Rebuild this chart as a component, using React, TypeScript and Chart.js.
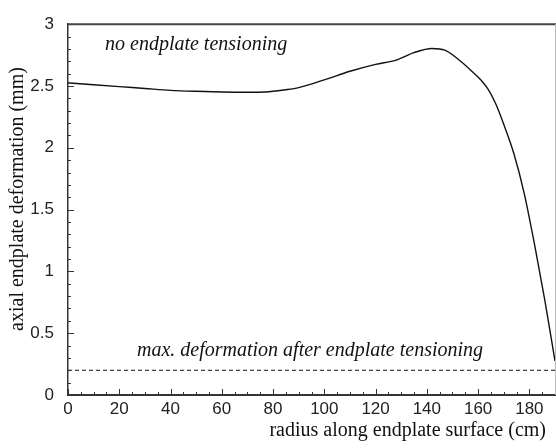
import React, { useEffect, useRef } from "react";
import { Chart, registerables } from "chart.js";

Chart.register(...registerables);

const radius = [0, 10, 20, 30, 40, 50, 60, 70, 77, 85, 90, 100, 110, 120, 128, 135, 142, 147, 152, 157, 161, 164, 167, 170, 174, 178, 182, 186, 190];
const deformation = [2.525, 2.51, 2.495, 2.48, 2.465, 2.457, 2.452, 2.45, 2.452, 2.47, 2.487, 2.55, 2.619, 2.675, 2.71, 2.77, 2.803, 2.79, 2.72, 2.63, 2.55, 2.47, 2.35, 2.19, 1.95, 1.63, 1.22, 0.77, 0.276];
const tensionedRadius = [0, 190];
const tensionedLimit = [0.2, 0.2];

const xTicks = [0, 20, 40, 60, 80, 100, 120, 140, 160, 180];
const yTicks = [0, 0.5, 1, 1.5, 2, 2.5, 3];
const xMinorStep = 5;
const yMinorStep = 0.1;

const xTitle = "radius along endplate surface (cm)";
const yTitle = "axial endplate deformation (mm)";
const noteTop = "no endplate tensioning";
const noteBottom = "max. deformation after endplate tensioning";

const decorPlugin = {
  id: "decor",
  afterDatasetsDraw(chart: any) {
    const { ctx, chartArea, scales } = chart;
    const xs = scales.x;
    const ys = scales.y;
    ctx.save();
    ctx.strokeStyle = "#333";
    ctx.lineWidth = 1;
    for (let i = 0; i * xMinorStep <= 190 + 1e-9; i++) {
      const v = i * xMinorStep;
      const px = Math.round(xs.getPixelForValue(v)) + 0.5;
      const major = xTicks.includes(v);
      const len = major ? 6 : 3;
      ctx.beginPath();
      ctx.moveTo(px, chartArea.bottom);
      ctx.lineTo(px, chartArea.bottom - len);
      ctx.stroke();
    }
    for (let i = 0; i <= 30; i++) {
      const v = i * yMinorStep;
      const py = Math.round(ys.getPixelForValue(v)) + 0.5;
      const major = i % 5 === 0;
      const len = major ? 6 : 3;
      ctx.beginPath();
      ctx.moveTo(chartArea.left, py);
      ctx.lineTo(chartArea.left + len, py);
      ctx.stroke();
    }
    ctx.strokeStyle = "#444";
    ctx.lineWidth = 2;
    ctx.beginPath();
    ctx.moveTo(chartArea.left, chartArea.top);
    ctx.lineTo(chartArea.right + 1, chartArea.top);
    ctx.stroke();
    ctx.strokeStyle = "#bbb";
    ctx.lineWidth = 1;
    ctx.beginPath();
    ctx.moveTo(chartArea.right + 0.5, chartArea.top);
    ctx.lineTo(chartArea.right + 0.5, chartArea.bottom);
    ctx.stroke();

    ctx.fillStyle = "#111";
    ctx.font = "italic 20px 'Liberation Serif', 'DejaVu Serif', serif";
    ctx.textBaseline = "middle";
    ctx.textAlign = "left";
    ctx.fillText(noteTop, 105, 45);
    ctx.fillText(noteBottom, 137, 351);

    ctx.font = "20px 'Liberation Serif', 'DejaVu Serif', serif";
    ctx.textAlign = "right";
    ctx.textBaseline = "middle";
    ctx.fillText(xTitle, 546, 431);
    ctx.save();
    ctx.translate(18, 199);
    ctx.rotate(-Math.PI / 2);
    ctx.textAlign = "center";
    ctx.fillText(yTitle, 0, 0);
    ctx.restore();
    ctx.restore();
  },
};

export default function App() {
  const ref = useRef<HTMLCanvasElement>(null);
  useEffect(() => {
    if (!ref.current) return;
    const chart = new Chart(ref.current, {
      type: "line",
      data: {
        datasets: [
          {
            data: radius.map((r, i) => ({ x: r, y: deformation[i] })),
            borderColor: "#111",
            borderWidth: 1.4,
            pointRadius: 0,
            cubicInterpolationMode: "monotone",
            fill: false,
          },
          {
            data: tensionedRadius.map((r, i) => ({ x: r, y: tensionedLimit[i] })),
            borderColor: "#111",
            borderWidth: 1,
            borderDash: [4, 3],
            pointRadius: 0,
            fill: false,
          },
        ],
      },
      options: {
        responsive: false,
        animation: false,
        layout: { padding: { top: 15, right: 1, left: 0, bottom: 0 } },
        plugins: { legend: { display: false }, tooltip: { enabled: false }, title: { display: false } },
        scales: {
          x: {
            type: "linear",
            min: 0,
            max: 190,
            grid: { display: false, drawTicks: false },
            border: { display: true, color: "#333", width: 2 },
            afterBuildTicks: (s: any) => {
              s.ticks = xTicks.map((v) => ({ value: v }));
            },
            afterFit: (s: any) => {
              s.height = 53;
            },
            ticks: {
              padding: 4,
              color: "#222",
              font: { family: "'Liberation Sans', Arial, sans-serif", size: 17 },
              callback: (v: any) => String(v),
              maxRotation: 0,
            },
          },
          y: {
            type: "linear",
            min: 0,
            max: 3,
            grid: { display: false, drawTicks: false },
            border: { display: true, color: "#333", width: 1.5 },
            afterBuildTicks: (s: any) => {
              s.ticks = yTicks.map((v) => ({ value: v }));
            },
            afterFit: (s: any) => {
              s.width = 68;
            },
            ticks: {
              padding: 14,
              color: "#222",
              font: { family: "'Liberation Sans', Arial, sans-serif", size: 17 },
              callback: (v: any) => String(v),
            },
          },
        },
      },
      plugins: [decorPlugin],
    });
    return () => chart.destroy();
  }, []);
  return (
    <div style={{ position: "fixed", left: 0, top: 0, width: 556, height: 448, background: "#fff" }}>
      <canvas ref={ref} width={556} height={448} style={{ display: "block" }} />
    </div>
  );
}
